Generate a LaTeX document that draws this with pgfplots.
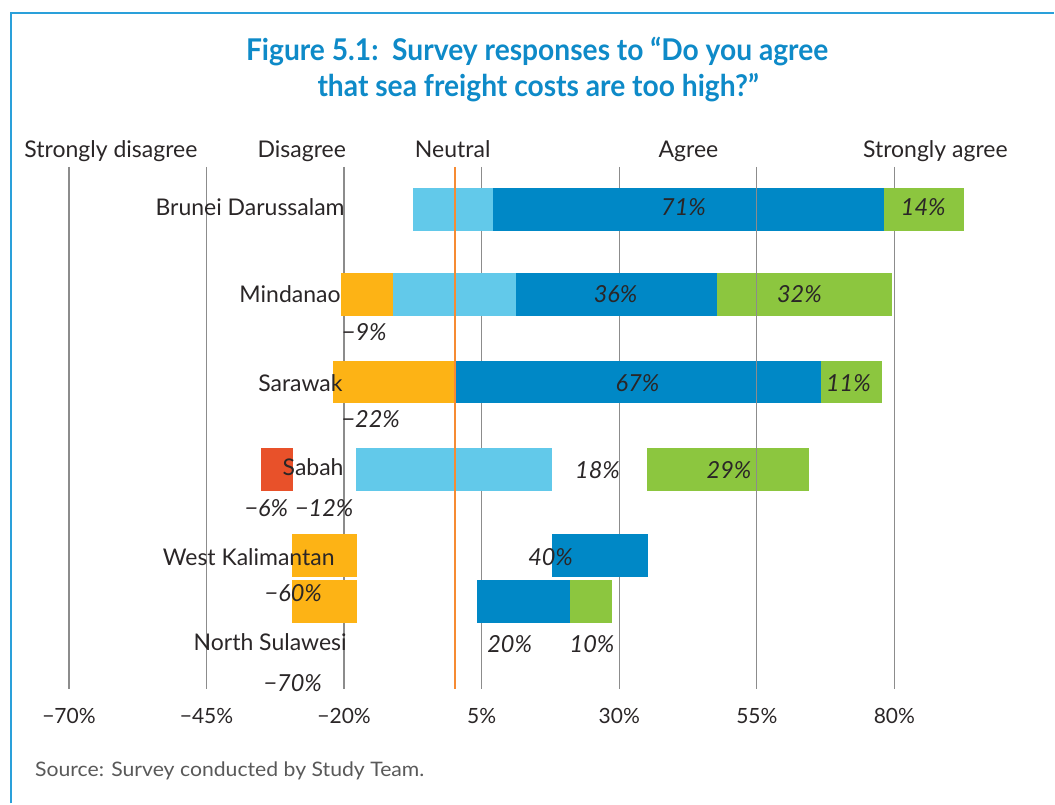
\documentclass[border=0pt]{standalone}
\usepackage{pgfplots}
\pgfplotsset{compat=1.18}
\usepackage{graphicx}
\usepackage{fontspec}
\setmainfont{Lato}
\definecolor{lb}{HTML}{62C9EA}
\definecolor{db}{HTML}{0088C6}
\definecolor{gr}{HTML}{8CC63F}
\definecolor{ye}{HTML}{FDB315}
\definecolor{rd}{HTML}{E8512A}
\definecolor{orl}{HTML}{F68B33}
\definecolor{gc}{HTML}{8C8C8C}
\definecolor{tc}{HTML}{2A2627}
\definecolor{ttl}{HTML}{0E8AC8}
\definecolor{frm}{HTML}{2AA0DA}
\newcommand\X[1]{\fpeval{(#1-454.5)/5.5067}}
\newcommand\lab{\fontsize{23}{28}\selectfont\color{tc}}
\newcommand\val{\fontsize{23.5}{28}\selectfont\itshape\color{tc}}
\newcommand\tk{\fontsize{21}{25}\selectfont\color{tc}}
\begin{document}
\begin{tikzpicture}
\begin{axis}[width=1055pt, height=804pt, scale only axis,
  xmin=-82.536, xmax=109.049, ymin=0, ymax=804, y dir=reverse,
  hide axis, clip=false]
% invisible frame for bounding box
\path (rel axis cs:0,0) rectangle (rel axis cs:1,1);
% gridlines (behind bars)
\addplot[gc, line width=1.3pt] coordinates {(-70,167) (-70,689)};
\addplot[gc, line width=1.3pt] coordinates {(-45,167) (-45,689)};
\addplot[gc, line width=1.3pt] coordinates {(-20,167) (-20,689)};
\addplot[gc, line width=1.3pt] coordinates {(5,167) (5,689)};
\addplot[gc, line width=1.3pt] coordinates {(30,167) (30,689)};
\addplot[gc, line width=1.3pt] coordinates {(80,167) (80,689)};
% Brunei Darussalam
\addplot[fill=lb, draw=none] coordinates {(-7.54,188) (6.99,188) (6.99,231) (-7.54,231)} --cycle;
\addplot[fill=db, draw=none] coordinates {(6.99,188) (78.18,188) (78.18,231) (6.99,231)} --cycle;
\addplot[fill=gr, draw=none] coordinates {(78.18,188) (92.71,188) (92.71,231) (78.18,231)} --cycle;
% Mindanao
\addplot[fill=ye, draw=none] coordinates {(-20.61,273) (-11.04,273) (-11.04,316) (-20.61,316)} --cycle;
\addplot[fill=lb, draw=none] coordinates {(-11.04,273) (11.17,273) (11.17,316) (-11.04,316)} --cycle;
\addplot[fill=db, draw=none] coordinates {(11.17,273) (47.67,273) (47.67,316) (11.17,316)} --cycle;
\addplot[fill=gr, draw=none] coordinates {(47.67,273) (79.63,273) (79.63,316) (47.67,316)} --cycle;
% Sarawak
\addplot[fill=ye, draw=none] coordinates {(-22.06,361) (0.35,361) (0.35,403) (-22.06,403)} --cycle;
\addplot[fill=db, draw=none] coordinates {(0.35,361) (66.57,361) (66.57,403) (0.35,403)} --cycle;
\addplot[fill=gr, draw=none] coordinates {(66.57,361) (77.83,361) (77.83,403) (66.57,403)} --cycle;
% Sabah
\addplot[fill=rd, draw=none] coordinates {(-35.14,448) (-29.33,448) (-29.33,491) (-35.14,491)} --cycle;
\addplot[fill=lb, draw=none] coordinates {(-17.89,448) (17.71,448) (17.71,491) (-17.89,491)} --cycle;
\addplot[fill=gr, draw=none] coordinates {(34.96,448) (64.56,448) (64.56,491) (34.96,491)} --cycle;
% West Kalimantan
\addplot[fill=ye, draw=none] coordinates {(-29.51,534) (-17.71,534) (-17.71,577) (-29.51,577)} --cycle;
\addplot[fill=db, draw=none] coordinates {(17.71,534) (35.14,534) (35.14,577) (17.71,577)} --cycle;
% North Sulawesi
\addplot[fill=ye, draw=none] coordinates {(-29.51,580) (-17.71,580) (-17.71,623) (-29.51,623)} --cycle;
\addplot[fill=db, draw=none] coordinates {(4.09,580) (20.97,580) (20.97,623) (4.09,623)} --cycle;
\addplot[fill=gr, draw=none] coordinates {(20.97,580) (28.60,580) (28.60,623) (20.97,623)} --cycle;
% gridline over bars and neutral line
\addplot[gc, line width=1.3pt] coordinates {(55,167) (55,689)};
\addplot[orl, line width=2pt] coordinates {(0.2,167) (0.2,689)};
% frame
\draw[frm, line width=1.5pt] (axis cs:\X{11},804) -- (axis cs:\X{11},13) -- (axis cs:\X{1055},13);
% title
\node[anchor=base, font=\fontsize{30}{36}\selectfont\bfseries, text=ttl] at (axis cs:\X{537.5},61) {\scalebox{0.94}[1]{Figure 5.1:\ \ Survey responses to “Do you agree}};
\node[anchor=base, font=\fontsize{30}{36}\selectfont\bfseries, text=ttl] at (axis cs:\X{538.5},97) {\scalebox{0.94}[1]{that sea freight costs are too high?”}};
% headers
\node[anchor=base] at (axis cs:\X{111},157.7) {\lab Strongly disagree};
\node[anchor=base] at (axis cs:\X{302},157.7) {\lab Disagree};
\node[anchor=base] at (axis cs:\X{453},157.7) {\lab Neutral};
\node[anchor=base] at (axis cs:\X{689},157.7) {\lab Agree};
\node[anchor=base] at (axis cs:\X{936},157.7) {\lab Strongly agree};
% row labels
\node[anchor=base east, inner xsep=0pt] at (axis cs:\X{345},216) {\lab Brunei Darussalam};
\node[anchor=base east, inner xsep=0pt] at (axis cs:\X{341},303) {\lab Mindanao};
\node[anchor=base east, inner xsep=0pt] at (axis cs:\X{343},392) {\lab Sarawak};
\node[anchor=base east, inner xsep=0pt] at (axis cs:\X{344},476) {\lab Sabah};
\node[anchor=base east, inner xsep=0pt] at (axis cs:\X{335},566) {\lab West Kalimantan};
\node[anchor=base east, inner xsep=0pt] at (axis cs:\X{347},651) {\lab North Sulawesi};
% value labels
\node[anchor=base] at (axis cs:\X{684},216) {\val 71\%};
\node[anchor=base] at (axis cs:\X{924},216) {\val 14\%};
\node[anchor=base] at (axis cs:\X{616},303) {\val 36\%};
\node[anchor=base] at (axis cs:\X{800},303) {\val 32\%};
\node[anchor=base] at (axis cs:\X{364.5},341) {\val −9\%};
\node[anchor=base] at (axis cs:\X{638},392) {\val 67\%};
\node[anchor=base] at (axis cs:\X{849},392) {\val 11\%};
\node[anchor=base] at (axis cs:\X{371},428) {\val −22\%};
\node[anchor=base] at (axis cs:\X{266.5},517) {\val −6\%};
\node[anchor=base] at (axis cs:\X{324.5},517) {\val −12\%};
\node[anchor=base] at (axis cs:\X{598},479) {\val 18\%};
\node[anchor=base] at (axis cs:\X{729.5},479) {\val 29\%};
\node[anchor=base] at (axis cs:\X{551},566) {\val 40\%};
\node[anchor=base] at (axis cs:\X{293.5},602) {\val −60\%};
\node[anchor=base] at (axis cs:\X{510},653) {\val 20\%};
\node[anchor=base] at (axis cs:\X{592.5},653) {\val 10\%};
\node[anchor=base] at (axis cs:\X{293},692) {\val −70\%};
% tick labels
\node[anchor=base] at (axis cs:-70,723.5) {\tk −70\%};
\node[anchor=base] at (axis cs:-45,723.5) {\tk −45\%};
\node[anchor=base] at (axis cs:-20,723.5) {\tk −20\%};
\node[anchor=base] at (axis cs:5,723.5) {\tk 5\%};
\node[anchor=base] at (axis cs:30,723.5) {\tk 30\%};
\node[anchor=base] at (axis cs:55,723.5) {\tk 55\%};
\node[anchor=base] at (axis cs:80,723.5) {\tk 80\%};
% source
\node[anchor=base west, inner xsep=0pt, font=\fontsize{20}{24}\selectfont, text=black!65] at (axis cs:\X{35},777) {\scalebox{1.06}[1]{Source: Survey conducted by Study Team.}};
\end{axis}
\end{tikzpicture}
\end{document}
